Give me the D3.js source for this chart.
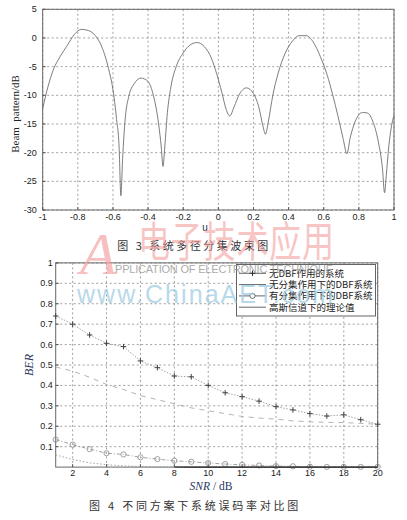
<!DOCTYPE html>
<html><head><meta charset="utf-8">
<script src="https://cdn.jsdelivr.net/npm/d3@7"></script>
<style>html,body{margin:0;padding:0;background:#fff;}svg{display:block;}</style>
</head><body>
<svg id="c" width="407" height="520"></svg>
<script>
// ---- Figure 3: beam pattern ----
const beamU  = [-1.00,-0.97,-0.94,-0.90,-0.86,-0.82,-0.78,-0.74,-0.70,-0.66,-0.62,-0.60,-0.58,-0.565,-0.555,-0.545,-0.53,-0.51,-0.48,-0.44,-0.40,-0.37,-0.34,-0.325,-0.315,-0.305,-0.29,-0.27,-0.24,-0.20,-0.16,-0.12,-0.08,-0.04,-0.01,0.02,0.045,0.065,0.09,0.12,0.16,0.20,0.23,0.255,0.268,0.285,0.31,0.34,0.38,0.42,0.46,0.50,0.54,0.58,0.62,0.65,0.68,0.71,0.732,0.75,0.78,0.82,0.85,0.88,0.91,0.935,0.946,0.956,0.97,0.985,1.00];
const beamDB = [-12.3,-8.5,-5.6,-3.2,-1.3,0.6,1.5,1.3,0.4,-1.8,-6.0,-9.0,-14.0,-19.0,-27.5,-21.0,-14.0,-10.2,-8.0,-7.0,-7.6,-10.0,-15.0,-19.0,-22.4,-19.0,-13.0,-8.5,-5.0,-2.6,-1.2,-0.8,-1.5,-3.5,-6.2,-9.5,-12.5,-13.6,-12.0,-9.8,-8.7,-9.7,-12.0,-15.5,-16.8,-14.5,-10.0,-6.2,-2.7,-0.6,0.4,0.4,-0.7,-3.2,-6.5,-9.8,-13.5,-17.5,-20.2,-17.5,-14.5,-13.0,-13.1,-14.6,-18.0,-23.0,-27.0,-24.0,-19.0,-15.5,-13.5];
const beamXTicks = [-1,-0.8,-0.6,-0.4,-0.2,0,0.2,0.4,0.6,0.8,1];
const beamYTicks = [5,0,-5,-10,-15,-20,-25,-30];

// ---- Figure 4: BER vs SNR ----
const snr = [1,2,3,4,5,6,7,8,9,10,11,12,13,14,15,16,17,18,19,20];
const berNoDBF     = [0.74,0.70,0.647,0.606,0.59,0.52,0.487,0.446,0.442,0.40,0.364,0.345,0.323,0.296,0.28,0.262,0.25,0.256,0.232,0.21];
const berDBFNoDiv  = [0.49,0.47,0.44,0.405,0.38,0.35,0.33,0.31,0.29,0.276,0.262,0.248,0.24,0.235,0.226,0.222,0.219,0.218,0.214,0.21];
const berDBFDiv    = [0.135,0.11,0.088,0.068,0.062,0.048,0.039,0.031,0.026,0.02,0.015,0.011,0.008,0.005,0.004,0.002,0.001,0.001,0.001,0.001];
const berGauss     = [0.06,0.037,0.021,0.012,0.006,0.003,0.001,0.0005,0.0002,0.0001,0,0,0,0,0,0,0,0,0,0];
const berXTicks = [2,4,6,8,10,12,14,16,18,20];
const berYTicks = [0.1,0.2,0.3,0.4,0.5,0.6,0.7,0.8,0.9,1];
const legendLabels = ["无DBF作用的系统","无分集作用下的DBF系统","有分集作用下的DBF系统","高斯信道下的理论值"];

const svg = d3.select("#c");
const sans = "'Liberation Sans', Arial, sans-serif";
const serif = "'Liberation Serif', 'Times New Roman', serif";
const cjk = "'Noto Sans CJK SC', sans-serif";

function frame(g, x, y, xt, yt, xfmt, yfmt, ylabOff, xlabY){
  const [x0,x1] = x.range(), [y0,y1] = y.range();
  g.append("g").selectAll("line").data(xt).join("line")
    .attr("x1",d=>x(d)).attr("x2",d=>x(d)).attr("y1",y1).attr("y2",y0)
    .attr("stroke","#888").attr("stroke-width",0.8).attr("stroke-dasharray","2,2.5");
  g.append("g").selectAll("line").data(yt).join("line")
    .attr("x1",x0).attr("x2",x1).attr("y1",d=>y(d)).attr("y2",d=>y(d))
    .attr("stroke","#888").attr("stroke-width",0.8).attr("stroke-dasharray","2,2.5");
  g.append("rect").attr("x",x0).attr("y",y1).attr("width",x1-x0).attr("height",y0-y1)
    .attr("fill","none").attr("stroke","#666").attr("stroke-width",1);
  g.append("g").selectAll("line").data(xt).join("line")
    .attr("x1",d=>x(d)).attr("x2",d=>x(d)).attr("y1",y0).attr("y2",y0-3).attr("stroke","#555");
  g.append("g").selectAll("line").data(yt).join("line")
    .attr("x1",x0).attr("x2",x0+3).attr("y1",d=>y(d)).attr("y2",d=>y(d)).attr("stroke","#555");
  g.append("g").selectAll("text").data(xt).join("text")
    .attr("x",d=>x(d)).attr("y",xlabY).attr("text-anchor","middle")
    .attr("font-family",sans).attr("font-size",9).attr("fill","#222").text(xfmt);
  g.append("g").selectAll("text").data(yt).join("text")
    .attr("x",x0-ylabOff).attr("y",d=>y(d)+3).attr("text-anchor","end")
    .attr("font-family",sans).attr("font-size",9).attr("fill","#222").text(yfmt);
}

// ---------- top chart ----------
const xT = d3.scaleLinear().domain([-1,1]).range([42.7,394]);
const yT = d3.scaleLinear().domain([-30,5]).range([210,9.3]);
const gT = svg.append("g");
frame(gT, xT, yT, beamXTicks, beamYTicks, d=>String(d), d=>String(d), 6, 219.5);
gT.append("path").datum(beamU.map((u,i)=>[u,beamDB[i]]))
  .attr("d", d3.line().x(d=>xT(d[0])).y(d=>yT(d[1])).curve(d3.curveMonotoneX))
  .attr("fill","none").attr("stroke","#666").attr("stroke-width",0.85);
gT.append("text").attr("transform","translate(19,114) rotate(-90)").attr("text-anchor","middle")
  .attr("font-family",serif).attr("font-size",11).attr("fill","#222").attr("xml:space","preserve").text("Beam  pattern/dB");
gT.append("text").attr("x",205).attr("y",231).attr("text-anchor","middle")
  .attr("font-family",sans).attr("font-size",10).attr("fill","#234").text("u");
svg.append("text").attr("x",194).attr("y",250).attr("text-anchor","middle")
  .attr("font-family",cjk).attr("font-size",11).attr("letter-spacing",2.5).attr("fill","#333").text("图 3 系统多径分集波束图");

// ---------- bottom chart ----------
const xB = d3.scaleLinear().domain([1,20]).range([55.7,377.7]);
const yB = d3.scaleLinear().domain([0,1]).range([467.1,262.9]);
const gB = svg.append("g");
frame(gB, xB, yB, berXTicks, berYTicks, d=>String(d), d=>String(d), 3, 476);

const lineB = d3.line().x((d,i)=>xB(snr[i])).y(d=>yB(d));
gB.append("path").datum(berGauss).attr("d",lineB).attr("fill","none").attr("stroke","#999").attr("stroke-width",0.9).attr("stroke-dasharray","1.5,2");
gB.append("path").datum(berDBFNoDiv).attr("d",lineB).attr("fill","none").attr("stroke","#aaa").attr("stroke-width",0.9).attr("stroke-dasharray","5,5");
gB.append("path").datum(berDBFDiv).attr("d",lineB).attr("fill","none").attr("stroke","#999").attr("stroke-width",0.9).attr("stroke-dasharray","4,2,1,2");
gB.append("path").datum(berNoDBF).attr("d",lineB).attr("fill","none").attr("stroke","#999").attr("stroke-width",0.9).attr("stroke-dasharray","1.5,1.5");
gB.append("g").selectAll("path").data(berNoDBF).join("path")
  .attr("d",(d,i)=>{const x=xB(snr[i]),y=yB(d);return `M${x-2.8},${y}H${x+2.8}M${x},${y-2.8}V${y+2.8}`;})
  .attr("stroke","#444").attr("stroke-width",1);
gB.append("g").selectAll("circle").data(berDBFDiv).join("circle")
  .attr("cx",(d,i)=>xB(snr[i])).attr("cy",d=>yB(d)).attr("r",2.6)
  .attr("fill","none").attr("stroke","#888").attr("stroke-width",0.8);
gB.append("path").datum(berGauss).attr("d",d3.line().defined(d=>d<0.0006).x((d,i)=>xB(snr[i])).y(d=>yB(d)))
  .attr("fill","none").attr("stroke","#222").attr("stroke-width",1.2);

gB.append("text").attr("transform","translate(33,365) rotate(-90)").attr("text-anchor","middle")
  .attr("font-family",serif).attr("font-style","italic").attr("font-size",12).attr("fill","#2a3560").text("BER");
const snrLab = gB.append("text").attr("x",211).attr("y",490).attr("text-anchor","middle")
  .attr("font-family",serif).attr("font-size",11.5).attr("fill","#2a3560");
snrLab.append("tspan").attr("font-style","italic").text("SNR");
snrLab.append("tspan").text(" / dB");
svg.append("text").attr("x",195).attr("y",510).attr("text-anchor","middle")
  .attr("font-family",cjk).attr("font-size",11).attr("letter-spacing",2.75).attr("fill","#333").text("图 4 不同方案下系统误码率对比图");

// legend
const lg = gB.append("g");
lg.append("rect").attr("x",236.5).attr("y",264.5).attr("width",139).attr("height",51.5)
  .attr("fill","#fff").attr("stroke","#555").attr("stroke-width",0.9);
const rowY = [273.3,284.6,295.9,307.2];
lg.selectAll("line").data(legendLabels).join("line")
  .attr("x1",239).attr("x2",266).attr("y1",(d,i)=>rowY[i]).attr("y2",(d,i)=>rowY[i])
  .attr("stroke","#555").attr("stroke-width",0.9);
lg.append("path").attr("d",`M${252.5-2.8},${rowY[0]}H${252.5+2.8}M252.5,${rowY[0]-2.8}V${rowY[0]+2.8}`).attr("stroke","#333");
lg.append("circle").attr("cx",252.5).attr("cy",rowY[2]).attr("r",2.6).attr("fill","#fff").attr("stroke","#555").attr("stroke-width",0.8);
lg.selectAll("text").data(legendLabels).join("text")
  .attr("x",269).attr("y",(d,i)=>rowY[i]+3.4).attr("font-family",cjk).attr("font-size",9.5).attr("fill","#222").text(d=>d);

// watermarks
const wm = svg.append("g").attr("pointer-events","none");
wm.append("text").attr("x",80).attr("y",274).attr("font-family",serif).attr("font-style","italic")
  .attr("font-size",60).attr("fill","#f4a5a5").attr("opacity",0.7).text("A");
wm.append("text").attr("transform","translate(138,257) scale(1,1.3)").attr("font-family",cjk)
  .attr("font-size",32).attr("fill","#f4a0a0").attr("opacity",0.6).attr("textLength",196).text("电子技术应用");
wm.append("text").attr("x",115).attr("y",273).attr("font-family",sans)
  .attr("font-size",11).attr("fill","#999").attr("opacity",0.8).attr("textLength",218).text("PPLICATION OF ELECTRONIC TECHNIQUE");
wm.append("text").attr("x",77).attr("y",303).attr("font-family",sans)
  .attr("font-size",25).attr("fill","#9fcde3").attr("opacity",0.75).attr("textLength",256).text("www.ChinaAET.com");
</script>
</body></html>
